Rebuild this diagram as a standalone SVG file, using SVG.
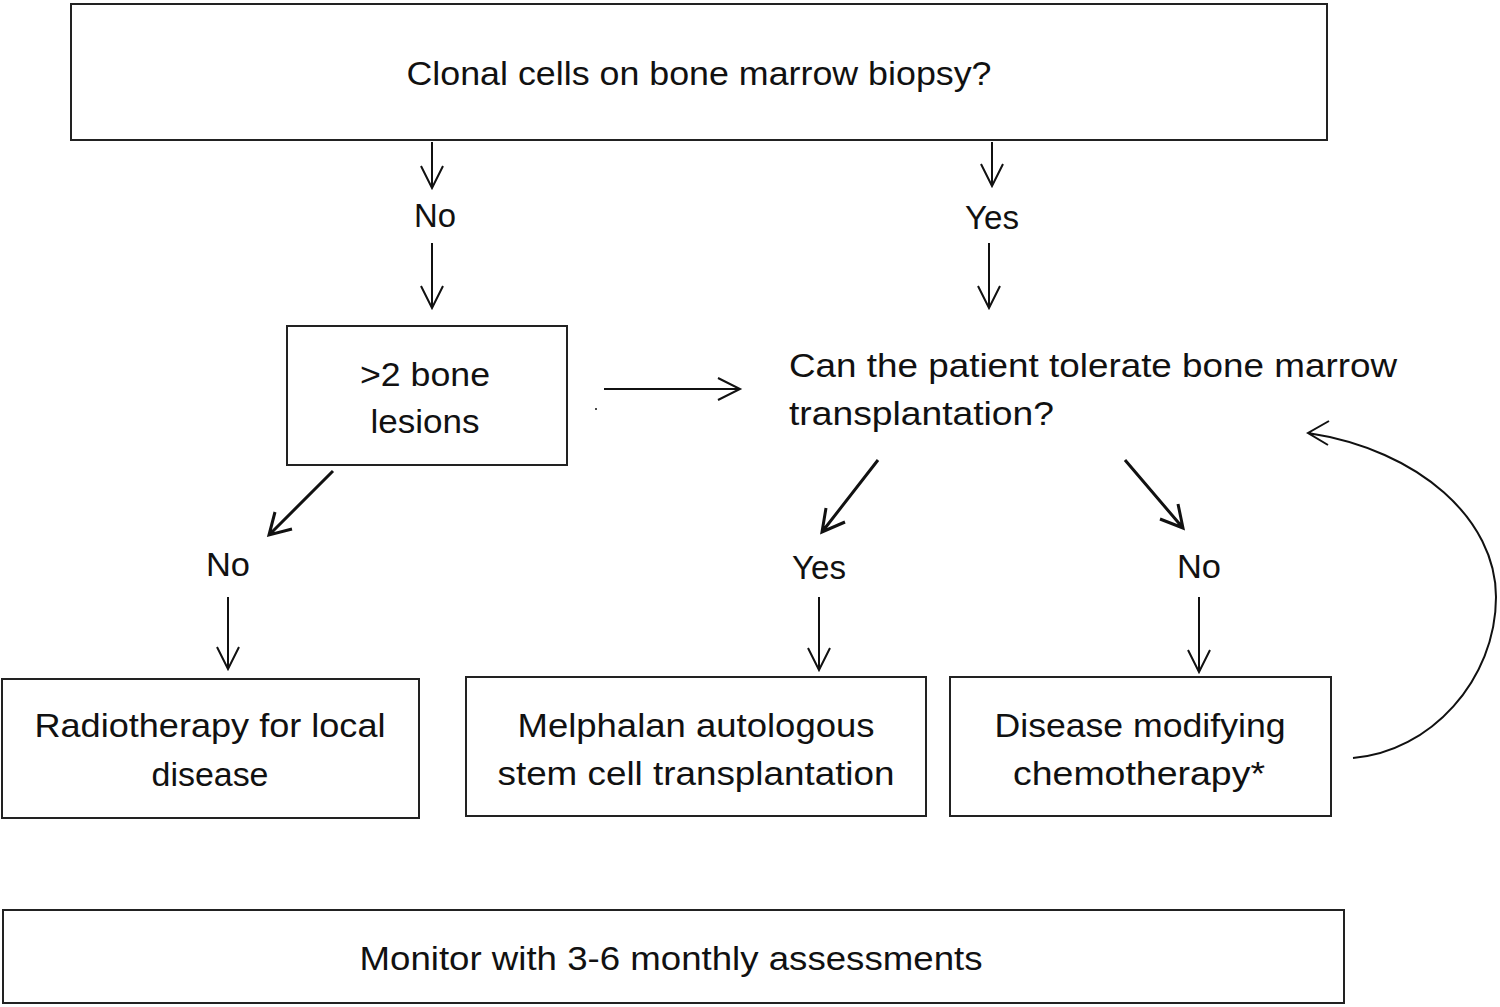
<svg xmlns="http://www.w3.org/2000/svg" width="1500" height="1007" viewBox="0 0 1500 1007">
<style>
.box{fill:#fff;stroke:#222;stroke-width:2}
.t{font-family:"Liberation Sans",Arial,sans-serif;font-size:34px;fill:#111}
.c{text-anchor:middle}
.ln{fill:none;stroke:#111;stroke-width:2}
.dg{fill:none;stroke:#111;stroke-width:3}
</style>
<rect width="1500" height="1007" fill="#fff"/>
<g id="n_clonal"><rect class="box" x="71" y="4" width="1256" height="136"/>
<text class="t c" x="699" y="85" textLength="585" lengthAdjust="spacingAndGlyphs">Clonal cells on bone marrow biopsy?</text></g>
<g id="l_no1"><text class="t c" x="435" y="227" textLength="42" lengthAdjust="spacingAndGlyphs">No</text></g>
<g id="l_yes1"><text class="t c" x="992" y="229" textLength="54" lengthAdjust="spacingAndGlyphs">Yes</text></g>
<g id="n_lesions"><rect class="box" x="287" y="326" width="280" height="139"/>
<text class="t c" x="425" y="386" textLength="130" lengthAdjust="spacingAndGlyphs">&gt;2 bone</text>
<text class="t c" x="425" y="433" textLength="109" lengthAdjust="spacingAndGlyphs">lesions</text></g>
<g id="n_tolerate">
<text class="t" x="789" y="377" textLength="608" lengthAdjust="spacingAndGlyphs">Can the patient tolerate bone marrow</text>
<text class="t" x="789" y="425" textLength="265" lengthAdjust="spacingAndGlyphs">transplantation?</text></g>
<g id="l_no2"><text class="t c" x="228" y="576" textLength="44" lengthAdjust="spacingAndGlyphs">No</text></g>
<g id="l_yes2"><text class="t c" x="819" y="579" textLength="54" lengthAdjust="spacingAndGlyphs">Yes</text></g>
<g id="l_no3"><text class="t c" x="1199" y="578" textLength="44" lengthAdjust="spacingAndGlyphs">No</text></g>
<g id="n_radio"><rect class="box" x="2" y="679" width="417" height="139"/>
<text class="t c" x="210" y="737" textLength="351" lengthAdjust="spacingAndGlyphs">Radiotherapy for local</text>
<text class="t c" x="210" y="786" textLength="117" lengthAdjust="spacingAndGlyphs">disease</text></g>
<g id="n_melph"><rect class="box" x="466" y="677" width="460" height="139"/>
<text class="t c" x="696" y="737" textLength="357" lengthAdjust="spacingAndGlyphs">Melphalan autologous</text>
<text class="t c" x="696" y="785" textLength="397" lengthAdjust="spacingAndGlyphs">stem cell transplantation</text></g>
<g id="n_chemo"><rect class="box" x="950" y="677" width="381" height="139"/>
<text class="t c" x="1140" y="737" textLength="291" lengthAdjust="spacingAndGlyphs">Disease modifying</text>
<text class="t c" x="1139" y="785" textLength="252" lengthAdjust="spacingAndGlyphs">chemotherapy*</text></g>
<g id="n_monitor"><rect class="box" x="3" y="910" width="1341" height="93"/>
<text class="t c" x="671" y="970" textLength="623" lengthAdjust="spacingAndGlyphs">Monitor with 3-6 monthly assessments</text></g>
<g id="connectors">
<path class="ln" d="M432,142V188M421,166L432,188L443,166"/>
<path class="ln" d="M432,243V308M421,286L432,308L443,286"/>
<path class="ln" d="M992,142V186M981,164L992,186L1003,164"/>
<path class="ln" d="M989,243V308M978,286L989,308L1000,286"/>
<path class="ln" d="M604,389H740M718,378L740,389L718,400"/>
<circle cx="596" cy="409" r="1" fill="#111"/>
<path class="dg" d="M333,471L269,535M275,512L269,535L292,529"/>
<path class="dg" d="M878,460L822,532M826,508L822,532L845,522"/>
<path class="dg" d="M1125,460L1183,528M1178,504L1183,528L1160,519"/>
<path class="ln" d="M228,597V669M217,647L228,669L239,647"/>
<path class="ln" d="M819,597V670M808,648L819,670L830,648"/>
<path class="ln" d="M1199,597V672M1188,650L1199,672L1210,650"/>
<path class="ln" d="M1353,758C1430,752 1496,680 1496,597C1496,520 1420,450 1308,433M1329,421L1308,433L1328,445"/>
</g>
</svg>
